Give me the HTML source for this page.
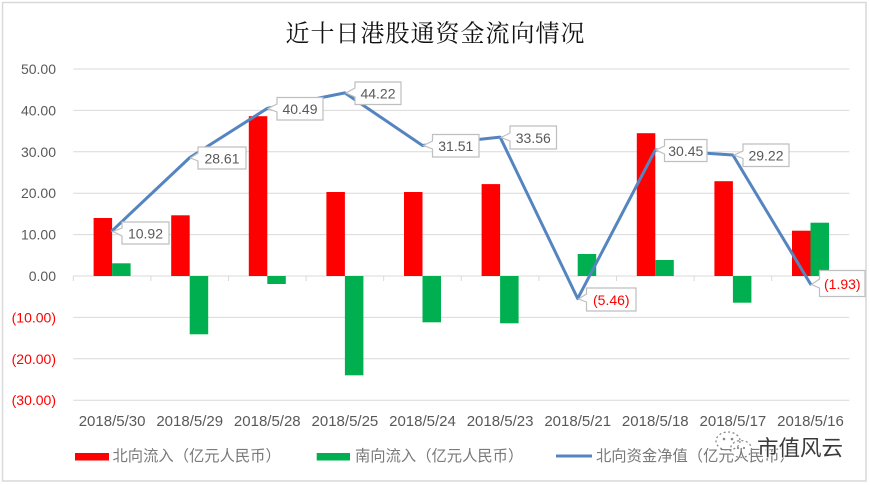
<!DOCTYPE html>
<html><head><meta charset="utf-8"><style>
html,body{margin:0;padding:0;background:#fff;}
svg{display:block;}
text{font-family:"Liberation Sans","Noto Sans CJK SC",sans-serif;}
</style></head><body>
<svg width="870" height="485" viewBox="0 0 870 485" xmlns="http://www.w3.org/2000/svg">
<rect x="0" y="0" width="870" height="485" fill="#fff"/>
<rect x="2.5" y="2.5" width="863.5" height="478.5" fill="#fff" stroke="#d9d9d9" stroke-width="1.5"/>
<!-- title -->
<text x="435.5" y="31" text-anchor="middle" dominant-baseline="central" font-size="24" fill="#111" style="font-family:'Noto Serif CJK SC','Noto Sans CJK SC',serif;letter-spacing:1px">近十日港股通资金流向情况</text>
<!-- gridlines -->
<g stroke="#d9d9d9" stroke-width="1">
<line x1="73.3" y1="69" x2="849.3" y2="69"/>
<line x1="73.3" y1="110.4" x2="849.3" y2="110.4"/>
<line x1="73.3" y1="151.8" x2="849.3" y2="151.8"/>
<line x1="73.3" y1="193.2" x2="849.3" y2="193.2"/>
<line x1="73.3" y1="234.6" x2="849.3" y2="234.6"/>
<line x1="73.3" y1="317.4" x2="849.3" y2="317.4"/>
<line x1="73.3" y1="358.8" x2="849.3" y2="358.8"/>
<line x1="73.3" y1="400.2" x2="849.3" y2="400.2"/>
<line x1="73.3" y1="276" x2="849.3" y2="276"/>
<line x1="73.3" y1="276" x2="73.3" y2="281"/>
<line x1="150.9" y1="276" x2="150.9" y2="281"/>
<line x1="228.5" y1="276" x2="228.5" y2="281"/>
<line x1="306.1" y1="276" x2="306.1" y2="281"/>
<line x1="383.7" y1="276" x2="383.7" y2="281"/>
<line x1="461.3" y1="276" x2="461.3" y2="281"/>
<line x1="538.9" y1="276" x2="538.9" y2="281"/>
<line x1="616.5" y1="276" x2="616.5" y2="281"/>
<line x1="694.1" y1="276" x2="694.1" y2="281"/>
<line x1="771.7" y1="276" x2="771.7" y2="281"/>
<line x1="849.3" y1="276" x2="849.3" y2="281"/>
</g>
<!-- y labels -->
<g font-size="14" text-anchor="end" dominant-baseline="central">
<text x="56" y="69" fill="#595959">50.00</text>
<text x="56" y="110.4" fill="#595959">40.00</text>
<text x="56" y="151.8" fill="#595959">30.00</text>
<text x="56" y="193.2" fill="#595959">20.00</text>
<text x="56" y="234.6" fill="#595959">10.00</text>
<text x="56" y="276" fill="#595959">0.00</text>
<text x="56" y="317.4" fill="#ff0000">(10.00)</text>
<text x="56" y="358.8" fill="#ff0000">(20.00)</text>
<text x="56" y="400.2" fill="#ff0000">(30.00)</text>
</g>
<!-- red bars -->
<g fill="#ff0000">
<rect x="93.6" y="218" width="18.5" height="58"/>
<rect x="171.2" y="215.3" width="18.5" height="60.7"/>
<rect x="248.8" y="116.2" width="18.5" height="159.8"/>
<rect x="326.4" y="192" width="18.5" height="84"/>
<rect x="404" y="192" width="18.5" height="84"/>
<rect x="481.6" y="184.1" width="18.5" height="91.9"/>
<rect x="636.8" y="133.2" width="18.5" height="142.8"/>
<rect x="714.4" y="181.2" width="18.5" height="94.8"/>
<rect x="792" y="230.7" width="18.5" height="45.3"/>
</g>
<!-- green bars -->
<g fill="#00b050">
<rect x="112.1" y="263.3" width="18.5" height="12.7"/>
<rect x="189.7" y="276" width="18.5" height="58.3"/>
<rect x="267.3" y="276" width="18.5" height="8"/>
<rect x="344.9" y="276" width="18.5" height="99.3"/>
<rect x="422.5" y="276" width="18.5" height="46.3"/>
<rect x="500.1" y="276" width="18.5" height="47.3"/>
<rect x="577.7" y="254" width="18.5" height="22"/>
<rect x="655.3" y="260" width="18.5" height="16"/>
<rect x="732.9" y="276" width="18.5" height="26.7"/>
<rect x="810.5" y="222.7" width="18.5" height="53.3"/>
</g>
<!-- net line -->
<polyline fill="none" stroke="#5585c0" stroke-width="3" stroke-linejoin="round" stroke-linecap="round"
points="112.1,230.8 189.7,157.6 267.3,108.4 344.9,92.9 422.5,145.5 500.1,137.1 577.7,298.6 655.3,149.9 732.9,155 810.5,284"/>
<!-- data label callouts -->
<g fill="#fff" stroke="#bfbfbf" stroke-width="1.2">
<path d="M122,222 H169 V244 H122 V236 L113,231.5 L122,228 Z"/>
<path d="M198,147 H246 V169 H198 V161 L190.5,158 L198,153 Z"/>
<path d="M277,97.5 H323 V120 H277 V112 L268,108.5 L277,104 Z"/>
<path d="M355,82 H401 V104.5 H355 V97 L346,93 L355,88 Z"/>
<path d="M432.5,134.5 H479 V157 H432.5 V149 L423.5,145.5 L432.5,141 Z"/>
<path d="M510,126 H556.5 V149 H510 V141 L501,137.5 L510,133 Z"/>
<path d="M586.5,288 H636 V311 H586.5 V302 L578.5,299 L586.5,294 Z"/>
<path d="M664.5,139.5 H707 V161.5 H664.5 V154 L656,150 L664.5,146 Z"/>
<path d="M743,144 H789 V166.5 H743 V158.5 L734,155 L743,151 Z"/>
<path d="M819.5,270.5 H865 V296.5 H819.5 V288 L811.5,284.5 L819.5,279 Z"/>
</g>
<g font-size="14" text-anchor="middle" dominant-baseline="central" fill="#595959">
<text x="145.5" y="233.5">10.92</text>
<text x="222" y="158.5">28.61</text>
<text x="300" y="109">40.49</text>
<text x="378" y="93.5">44.22</text>
<text x="455.8" y="146">31.51</text>
<text x="533.3" y="138">33.56</text>
<text x="611.3" y="299.8" fill="#ff0000">(5.46)</text>
<text x="685.8" y="151">30.45</text>
<text x="766" y="155.5">29.22</text>
<text x="842.3" y="284" fill="#ff0000">(1.93)</text>
</g>
<!-- x labels -->
<g font-size="15" text-anchor="middle" dominant-baseline="central" fill="#595959">
<text x="112.1" y="421.5">2018/5/30</text>
<text x="189.7" y="421.5">2018/5/29</text>
<text x="267.3" y="421.5">2018/5/28</text>
<text x="344.9" y="421.5">2018/5/25</text>
<text x="422.5" y="421.5">2018/5/24</text>
<text x="500.1" y="421.5">2018/5/23</text>
<text x="577.7" y="421.5">2018/5/21</text>
<text x="655.3" y="421.5">2018/5/18</text>
<text x="732.9" y="421.5">2018/5/17</text>
<text x="810.5" y="421.5">2018/5/16</text>
</g>
<!-- legend -->
<g font-size="15.3" dominant-baseline="central" fill="#7a7a7a" style="font-family:'Noto Serif CJK SC','Noto Sans CJK SC',serif">
<text x="112.5" y="456.5">北向流入（亿元人民币）</text>
<text x="355" y="456.5">南向流入（亿元人民币）</text>
<text x="596" y="456.5">北向资金净值（亿元人民币）</text>
</g>
<rect x="75" y="453" width="34" height="7.5" fill="#ff0000"/>
<rect x="316.7" y="453" width="33.3" height="7.5" fill="#00b050"/>
<line x1="556" y1="456" x2="592" y2="456" stroke="#5585c0" stroke-width="3"/>
<!-- watermark -->
<g fill="none" stroke="#8a8a8a" stroke-width="1.3" stroke-dasharray="2 2.5">
<ellipse cx="728" cy="441" rx="12" ry="9"/>
<ellipse cx="741" cy="449" rx="10.5" ry="8.5"/>
</g>
<g fill="#8a8a8a"><circle cx="724" cy="439" r="1.3"/><circle cx="732" cy="439" r="1.3"/><circle cx="738" cy="448" r="1.1"/><circle cx="744" cy="448" r="1.1"/></g>
<text x="757" y="447" font-size="21.5" dominant-baseline="central" fill="#3a3a3a" stroke="#fff" stroke-width="1.5" paint-order="stroke" style="font-family:'Noto Sans CJK SC',sans-serif">市值风云</text>
</svg>
</body></html>
